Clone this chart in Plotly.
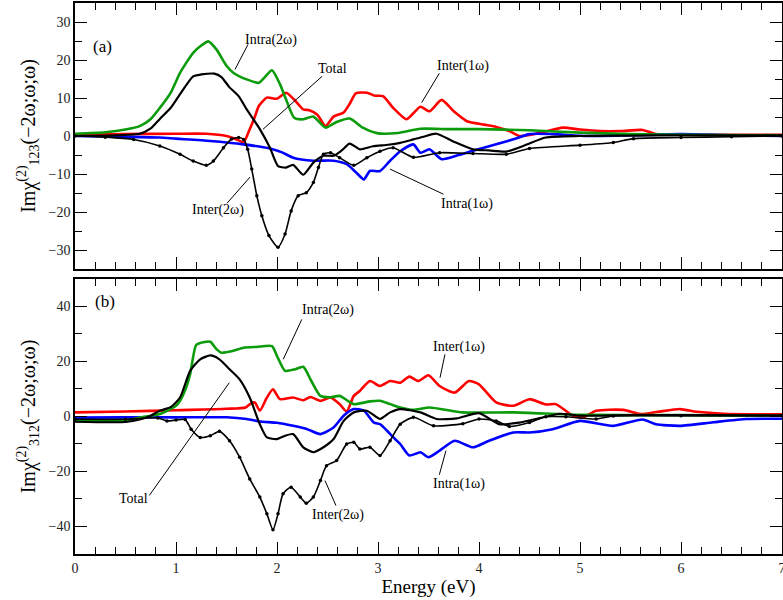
import plotly.graph_objects as go

# ---------------- panel (a) data ----------------
E_intra2w_a = [0, 0.3, 0.5, 0.64, 0.75, 0.84, 0.95, 1.04, 1.17, 1.25, 1.32, 1.4, 1.5, 1.57, 1.7, 1.82, 1.88, 1.95, 2.03, 2.09, 2.17, 2.26, 2.36, 2.48, 2.59, 2.72, 2.85, 3.0, 3.2, 3.42, 3.7, 4.0, 4.5, 5.0, 5.5, 6.0, 7.0]
V_intra2w_a = [0.6, 1.0, 1.7, 2.6, 4.5, 7.4, 11.5, 16.6, 21.9, 23.8, 24.9, 22.8, 18.5, 16.6, 14.9, 14.0, 15.5, 17.3, 13.6, 9.6, 4.8, 4.4, 5.1, 2.2, 3.7, 4.6, 2.2, 0.7, 0.8, 1.9, 1.8, 1.8, 1.5, 0.9, 0.5, 0.3, 0.2]

E_total_a = [0, 0.3, 0.5, 0.64, 0.75, 0.84, 0.95, 1.04, 1.17, 1.25, 1.38, 1.45, 1.53, 1.62, 1.7, 1.83, 1.93, 2.01, 2.09, 2.16, 2.26, 2.36, 2.46, 2.56, 2.64, 2.72, 2.82, 2.95, 3.1, 3.22, 3.35, 3.45, 3.58, 3.75, 3.94, 4.1, 4.27, 4.45, 4.66, 5.0, 5.5, 6.0, 7.0]
V_total_a = [0, 0.1, 0.3, 0.6, 2.0, 4.5, 7.5, 11.0, 15.7, 16.2, 16.4, 15.5, 12.8, 10.5, 7.0, 1.8, -3.1, -7.9, -8.3, -7.6, -10.2, -7.0, -5.2, -5.2, -3.8, -2.0, -3.5, -2.7, -2.3, -1.8, -0.9, -0.2, 0.6, -1.5, -3.5, -3.8, -4.1, -2.5, -0.4, 0.0, 0.1, 0.2, 0.2]

E_inter1w_a = [0, 0.5, 1.0, 1.3, 1.5, 1.6, 1.67, 1.73, 1.78, 1.82, 1.9, 2.0, 2.09, 2.17, 2.26, 2.32, 2.4, 2.48, 2.56, 2.66, 2.72, 2.78, 2.89, 2.97, 3.05, 3.15, 3.28, 3.35, 3.42, 3.51, 3.63, 3.75, 3.88, 4.05, 4.17, 4.3, 4.4, 4.6, 4.83, 5.0, 5.2, 5.4, 5.62, 5.75, 6.0, 7.0]
V_inter1w_a = [0.3, 0.5, 0.6, 0.6, 0.0, -0.9, -1.6, 1.8, 5.0, 7.9, 10.1, 9.8, 11.4, 9.6, 7.0, 6.8, 5.6, 2.6, 5.1, 6.2, 8.5, 11.2, 11.4, 10.6, 10.5, 7.4, 4.4, 6.0, 7.7, 6.5, 9.5, 6.5, 3.9, 3.0, 2.4, 1.3, 0.0, 0.8, 2.2, 1.7, 1.3, 1.3, 1.6, 0.5, 0.3, 0.3]

E_intra1w_a = [0, 0.5, 0.84, 1.0, 1.34, 1.67, 1.93, 2.05, 2.16, 2.36, 2.56, 2.69, 2.78, 2.86, 2.92, 3.02, 3.12, 3.22, 3.35, 3.42, 3.51, 3.63, 3.8, 3.94, 4.17, 4.35, 4.5, 4.73, 5.07, 5.5, 6.0, 6.5, 7.0]
V_intra1w_a = [0, -0.2, -0.4, -0.7, -1.3, -2.2, -3.3, -4.3, -5.7, -6.5, -6.5, -7.4, -9.5, -11.4, -9.2, -9.2, -6.5, -4.0, -2.2, -4.4, -3.5, -6.1, -5.0, -3.9, -2.2, -0.8, 0.5, 0.5, 0.0, 0.2, 0.5, 0.2, 0.0]

E_inter2w_a = [0, 0.3, 0.58, 0.84, 1.04, 1.17, 1.3, 1.37, 1.47, 1.55, 1.62, 1.67, 1.71, 1.75, 1.8, 1.85, 1.92, 2.01, 2.08, 2.14, 2.21, 2.29, 2.36, 2.41, 2.46, 2.53, 2.62, 2.76, 2.89, 3.02, 3.15, 3.35, 3.61, 3.94, 4.27, 4.5, 5.0, 5.33, 5.53, 6.0, 6.5, 7.0]
V_inter2w_a = [0, -0.3, -0.9, -2.6, -4.8, -6.6, -7.7, -6.6, -3.1, -0.8, -0.4, -0.9, -3.5, -8.7, -15.7, -21.0, -26.2, -29.3, -25.8, -19.7, -15.7, -14.9, -12.2, -8.3, -4.8, -4.4, -5.7, -7.7, -5.7, -4.0, -3.1, -5.6, -4.4, -4.6, -4.8, -3.3, -2.4, -1.7, -0.7, -0.4, -0.2, 0.0]

# ---------------- panel (b) data ----------------
E_intra2w_b = [0, 0.3, 0.5, 0.64, 0.84, 1.0, 1.04, 1.09, 1.14, 1.2, 1.27, 1.34, 1.4, 1.45, 1.56, 1.67, 1.8, 1.95, 2.0, 2.08, 2.18, 2.26, 2.34, 2.43, 2.53, 2.62, 2.76, 2.92, 3.02, 3.12, 3.22, 3.35, 3.51, 3.84, 4.34, 5.0, 6.0, 7.0]
V_intra2w_b = [-1.6, -1.6, -1.6, -0.4, 0.9, 3.9, 5.7, 9.5, 15.4, 26.0, 27.0, 27.2, 24.5, 23.2, 23.8, 25.0, 25.3, 25.6, 22.0, 16.6, 17.2, 18.1, 12.9, 7.5, 7.0, 7.5, 4.5, 5.5, 5.7, 4.5, 3.3, 2.4, 3.3, 1.5, 1.5, 0.6, 0.5, 0.3]

E_total_b = [0, 0.5, 0.65, 0.75, 0.84, 0.95, 1.04, 1.14, 1.24, 1.34, 1.43, 1.53, 1.63, 1.73, 1.83, 1.9, 2.0, 2.08, 2.16, 2.26, 2.36, 2.46, 2.56, 2.66, 2.76, 2.89, 3.02, 3.12, 3.22, 3.42, 3.58, 3.78, 4.0, 4.2, 4.4, 4.6, 4.8, 5.0, 5.5, 6.0, 7.0]
V_total_b = [-1.9, -2.0, -1.0, 0.3, 2.1, 3.5, 6.9, 16.6, 20.8, 22.2, 20.8, 17.2, 13.5, 6.9, -2.8, -7.6, -8.2, -7.0, -6.4, -11.2, -13.0, -11.2, -8.2, -1.6, 1.5, 2.1, -0.9, 1.5, 2.7, 1.5, -0.9, -0.7, 1.2, -2.8, -2.2, -0.6, 1.0, 0.3, 0.5, 0.5, 0.4]

E_inter1w_b = [0, 0.5, 1.0, 1.5, 1.69, 1.74, 1.78, 1.83, 1.9, 1.96, 2.03, 2.16, 2.26, 2.33, 2.43, 2.53, 2.62, 2.69, 2.76, 2.82, 2.92, 3.02, 3.12, 3.22, 3.31, 3.4, 3.5, 3.61, 3.76, 3.9, 4.0, 4.17, 4.34, 4.5, 4.66, 4.76, 4.93, 5.03, 5.16, 5.43, 5.6, 5.77, 5.99, 6.16, 6.42, 7.0]
V_inter1w_b = [1.5, 1.8, 2.3, 2.8, 3.3, 4.7, 5.1, 2.1, 6.9, 9.9, 6.3, 6.9, 5.9, 7.1, 5.7, 6.9, 4.5, 1.8, 7.5, 9.3, 12.9, 11.1, 12.9, 12.3, 14.5, 12.9, 15.0, 11.1, 8.7, 12.9, 11.7, 5.1, 3.9, 6.3, 4.4, 4.5, 0.3, -0.3, 2.1, 2.4, 0.9, 1.7, 2.7, 1.7, 1.0, 0.8]

E_intra1w_b = [0, 0.5, 1.0, 1.5, 1.7, 1.83, 2.0, 2.16, 2.3, 2.43, 2.56, 2.66, 2.76, 2.86, 2.96, 3.02, 3.09, 3.15, 3.22, 3.31, 3.42, 3.5, 3.61, 3.76, 3.94, 4.1, 4.34, 4.5, 4.73, 5.0, 5.33, 5.62, 5.75, 5.99, 6.32, 6.65, 7.0]
V_intra1w_b = [-0.4, -0.3, -0.3, -0.3, -0.9, -1.8, -2.3, -3.4, -4.6, -6.4, -4.0, 0.3, 2.7, 2.1, -2.2, -2.8, -5.2, -7.5, -10.0, -14.2, -13.0, -14.8, -12.4, -8.8, -11.2, -8.8, -5.8, -5.8, -4.6, -1.6, -3.4, -1.1, -2.8, -3.4, -2.1, -0.9, -0.8]

E_inter2w_b = [0, 0.5, 0.82, 0.91, 1.0, 1.09, 1.15, 1.24, 1.34, 1.43, 1.53, 1.63, 1.73, 1.83, 1.9, 1.96, 2.01, 2.06, 2.14, 2.23, 2.29, 2.36, 2.43, 2.49, 2.59, 2.69, 2.76, 2.82, 2.92, 3.02, 3.12, 3.22, 3.35, 3.55, 3.84, 4.0, 4.17, 4.3, 4.5, 4.66, 4.86, 5.16, 5.33, 6.0, 7.0]
V_inter2w_b = [-1.0, -1.0, -0.5, -1.6, -1.3, -1.1, -4.6, -7.6, -7.0, -5.4, -8.8, -14.8, -22.7, -29.3, -35.4, -41.2, -35.4, -28.1, -25.7, -29.3, -31.5, -29.3, -23.3, -17.9, -16.0, -10.0, -9.4, -11.8, -11.2, -14.2, -8.8, -2.8, -0.3, -3.4, -2.6, -0.9, -1.6, -3.6, -2.2, -0.1, -0.1, -0.9, 0.2, 0.3, 0.3]

X_TICKS = [0, 1, 2, 3, 4, 5, 6, 7]
Y_TICKS_A = [-30, -20, -10, 0, 10, 20, 30]
Y_TICKS_B = [-40, -20, 0, 20, 40]

GREEN = "#0b9b0b"
RED = "#ff0000"
BLUE = "#0000ff"
BLACK = "#000000"
FONT = "Liberation Serif, Times New Roman, DejaVu Serif, serif"

fig = go.Figure()

def add(E, V, color, width, xa, ya, name, dots=False):
    fig.add_trace(go.Scatter(x=E, y=V, mode="lines+markers" if dots else "lines", name=name,
                             line=dict(color=color, width=width, shape="spline", smoothing=0.6),
                             marker=dict(size=3.5, color=color),
                             xaxis=xa, yaxis=ya, showlegend=False))

for xa, ya, data in [
    ("x", "y", [(E_inter1w_a, V_inter1w_a, RED, 2.6, "Inter(1ω)", False),
                (E_intra1w_a, V_intra1w_a, BLUE, 2.6, "Intra(1ω)", False),
                (E_intra2w_a, V_intra2w_a, GREEN, 2.6, "Intra(2ω)", False),
                (E_inter2w_a, V_inter2w_a, BLACK, 1.6, "Inter(2ω)", True),
                (E_total_a, V_total_a, BLACK, 2.2, "Total", False)]),
    ("x2", "y2", [(E_inter1w_b, V_inter1w_b, RED, 2.6, "Inter(1ω)", False),
                  (E_intra1w_b, V_intra1w_b, BLUE, 2.6, "Intra(1ω)", False),
                  (E_intra2w_b, V_intra2w_b, GREEN, 2.6, "Intra(2ω)", False),
                  (E_inter2w_b, V_inter2w_b, BLACK, 1.6, "Inter(2ω)", True),
                  (E_total_b, V_total_b, BLACK, 2.2, "Total", False)]),
]:
    for E, V, c, w, n, d in data:
        add(E, V, c, w, xa, ya, n, d)

axis_common = dict(showline=True, linecolor="black", linewidth=1.5, mirror="allticks",
                   ticks="inside", ticklen=12, tickwidth=1.2, tickcolor="black",
                   showgrid=False, zeroline=False, automargin=False,
                   tickfont=dict(family=FONT, size=14, color="#222"))

fig.update_layout(
    width=783, height=600,
    margin=dict(l=75, r=1, t=3, b=46),
    paper_bgcolor="white", plot_bgcolor="white",
    font=dict(family=FONT, color="black"),
    xaxis=dict(axis_common, range=[0, 7], tickvals=X_TICKS, showticklabels=False,
               anchor="y", domain=[0, 1],
               minor=dict(ticks="inside", ticklen=7, dtick=0.2, tickcolor="black", tickwidth=1)),
    yaxis=dict(axis_common, range=[-35, 35], tickvals=Y_TICKS_A, anchor="x",
               domain=[0.5172, 1],
               minor=dict(ticks="inside", ticklen=7, dtick=5, tickcolor="black", tickwidth=1),
               title=dict(text="Imχ<sup>(2)</sup><sub>123</sub>(−2ω;ω;ω)",
                          font=dict(family=FONT, size=20), standoff=8)),
    xaxis2=dict(axis_common, range=[0, 7], tickvals=X_TICKS, anchor="y2", domain=[0, 1],
                ticklabeloverflow="allow",
                minor=dict(ticks="inside", ticklen=7, dtick=0.2, tickcolor="black", tickwidth=1),
                title=dict(text="Energy (eV)", font=dict(family=FONT, size=19), standoff=4)),
    yaxis2=dict(axis_common, range=[-50, 50], tickvals=Y_TICKS_B, anchor="x2",
                domain=[0, 0.4991],
                minor=dict(ticks="inside", ticklen=7, dtick=10, tickcolor="black", tickwidth=1),
                title=dict(text="Imχ<sup>(2)</sup><sub>312</sub>(−2ω;ω;ω)",
                           font=dict(family=FONT, size=20), standoff=8)),
)

labels = [
    ("x", "y", 0.277, 23.5, "(a)", 17),
    ("x", "y", 1.94, 25.2, "Intra(2ω)", 14),
    ("x", "y", 2.554, 17.8, "Total", 14),
    ("x", "y", 1.411, -19.4, "Inter(2ω)", 14),
    ("x", "y", 3.842, 18.4, "Inter(1ω)", 14),
    ("x", "y", 3.879, -17.9, "Intra(1ω)", 14),
    ("x2", "y2", 0.297, 41.9, "(b)", 17),
    ("x2", "y2", 2.505, 38.7, "Intra(2ω)", 14),
    ("x2", "y2", 0.582, -29.9, "Total", 14),
    ("x2", "y2", 2.599, -36.0, "Inter(2ω)", 14),
    ("x2", "y2", 3.802, 25.3, "Inter(1ω)", 14),
    ("x2", "y2", 3.802, -24.7, "Intra(1ω)", 14),
]
for xr, yr, x, y, t, s in labels:
    fig.add_annotation(x=x, y=y, xref=xr, yref=yr, text=t, showarrow=False,
                       font=dict(family=FONT, size=s, color="black"))

pointers = [
    ("x", "y", 1.713, 24.1, 1.584, 17.5),
    ("x", "y", 2.446, 15.7, 1.861, 1.76),
    ("x", "y", 1.505, -17.7, 1.733, -10.8),
    ("x", "y", 3.607, 16.5, 3.433, 8.8),
    ("x", "y", 3.647, -15.3, 3.119, -8.7),
    ("x2", "y2", 2.245, 35.3, 2.062, 20.8),
    ("x2", "y2", 0.736, -28.7, 1.528, 12.3),
    ("x2", "y2", 2.584, -32.4, 2.475, -23.3),
    ("x2", "y2", 3.663, 22.6, 3.614, 14.1),
    ("x2", "y2", 3.607, -21.2, 3.673, -12.4),
]
for xr, yr, x0, y0, x1, y1 in pointers:
    fig.add_shape(type="line", xref=xr, yref=yr, x0=x0, y0=y0, x1=x1, y1=y1,
                  line=dict(color="black", width=1))

fig.write_html("out.html", config={"displayModeBar": False},
               post_script="document.body.style.margin='0';document.body.style.overflow='hidden';")
